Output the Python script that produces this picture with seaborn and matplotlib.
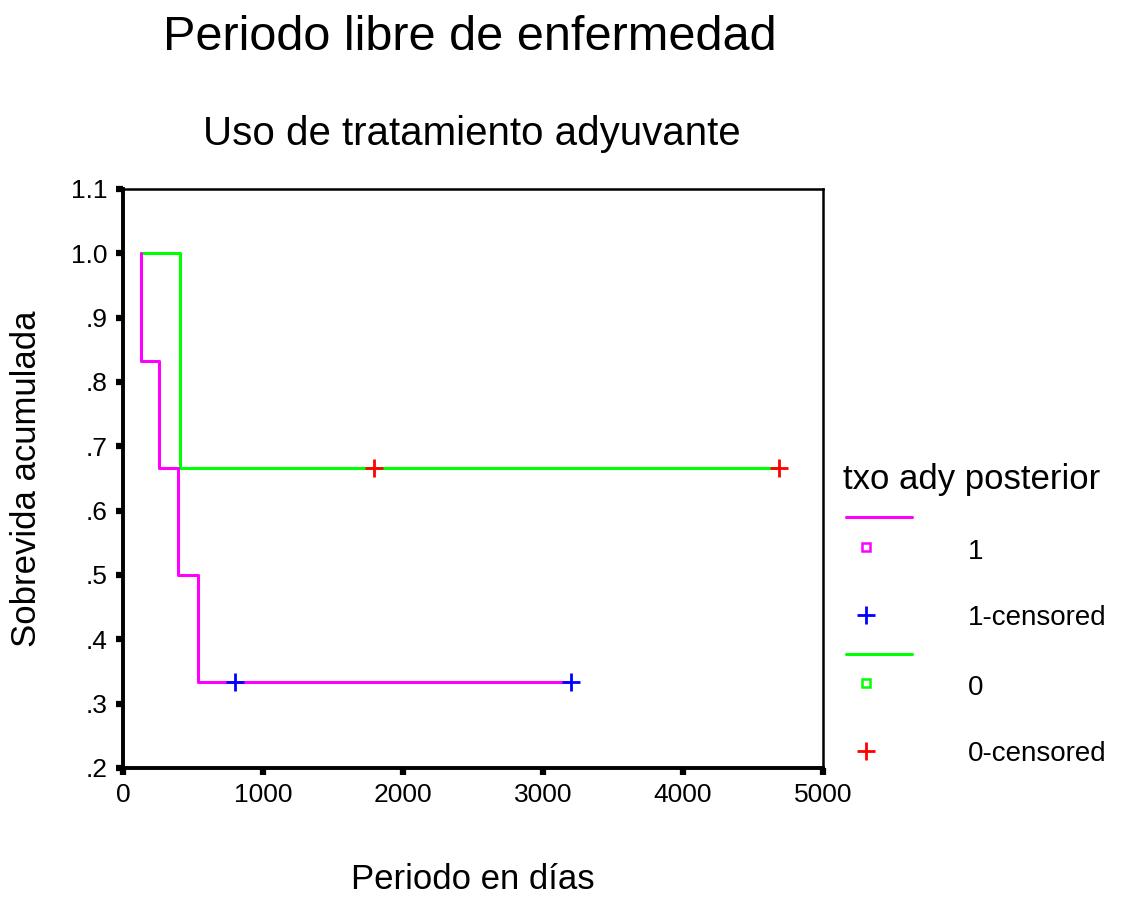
import matplotlib
matplotlib.use("Agg")
import matplotlib.pyplot as plt
import seaborn as sns
import pandas as pd
from matplotlib.lines import Line2D

# Kaplan-Meier step data
g1_time = [128, 128, 255, 393, 536, 3198]
g1_surv = [1.0, 0.8333, 0.6667, 0.5, 0.3333, 0.3333]
g1_cens_time = [800, 3198]
g1_cens_surv = [0.3333, 0.3333]

g0_time = [128, 407, 4686]
g0_surv = [1.0, 0.6667, 0.6667]
g0_cens_time = [1793, 4686]
g0_cens_surv = [0.6667, 0.6667]

x_ticks = [0, 1000, 2000, 3000, 4000, 5000]
y_ticks = [0.2, 0.3, 0.4, 0.5, 0.6, 0.7, 0.8, 0.9, 1.0, 1.1]
y_ticklabels = [".2", ".3", ".4", ".5", ".6", ".7", ".8", ".9", "1.0", "1.1"]

legend_title = "txo ady posterior"
legend_labels = ["1", "1-censored", "0", "0-censored"]

sns.set_style("white")
plt.rcParams['font.family'] = ['Liberation Sans', 'DejaVu Sans']
plt.rcParams['text.color'] = 'black'
plt.rcParams['axes.labelcolor'] = 'black'
plt.rcParams['xtick.color'] = 'black'
plt.rcParams['ytick.color'] = 'black'

fig = plt.figure(figsize=(11.21, 9.02), dpi=100)
ax = fig.add_axes([0.1097, 0.1486, 0.6244, 0.6419])

df1 = pd.DataFrame({"t": g1_time, "s": g1_surv})
df0 = pd.DataFrame({"t": g0_time, "s": g0_surv})
sns.lineplot(data=df0, x="t", y="s", estimator=None, sort=False, drawstyle="steps-post",
             color="#00FF00", lw=2.2, ax=ax)
sns.lineplot(data=df1, x="t", y="s", estimator=None, sort=False, drawstyle="steps-post",
             color="#FF00FF", lw=2.2, ax=ax)
ax.plot(g1_cens_time, g1_cens_surv, ls="none", marker="+", ms=13, mew=2, color="#0000FF")
ax.plot(g0_cens_time, g0_cens_surv, ls="none", marker="+", ms=13, mew=2, color="#FF0000")

ax.set_xlim(0, 5000)
ax.set_ylim(0.2, 1.1)
ax.set_xticks(x_ticks)
ax.set_xticklabels([str(v) for v in x_ticks], fontsize=19)
ax.set_yticks(y_ticks)
ax.set_yticklabels(y_ticklabels, fontsize=19)
ax.tick_params(direction="out", length=5, width=4.5, color="black", pad=6, left=True, bottom=True)
for side in ["left", "bottom"]:
    ax.spines[side].set_linewidth(2.8)
for side in ["top", "right"]:
    ax.spines[side].set_linewidth(1.8)
for sp in ax.spines.values():
    sp.set_color("black")
ax.set_xlabel("Periodo en días", fontsize=25, labelpad=40)
ax.set_ylabel("Sobrevida acumulada", fontsize=25, labelpad=20)

fig.text(0.419, 0.958, "Periodo libre de enfermedad", fontsize=35, ha="center", va="center", color="black")
fig.text(0.421, 0.851, "Uso de tratamiento adyuvante", fontsize=29, ha="center", va="center", color="black")

# manual legend
W, H = 1121, 902
def fx(px): return px / W
def fy(py): return 1 - py / H
fig.text(fx(843), fy(480), legend_title, fontsize=25, ha="left", va="center")
fig.add_artist(Line2D([fx(846), fx(912)], [fy(517), fy(517)], color="#FF00FF", lw=2.2))
fig.add_artist(Line2D([fx(866)], [fy(547)], marker="s", ms=6, mfc="none", mec="#FF00FF", mew=1.8, ls="none"))
fig.add_artist(Line2D([fx(866)], [fy(615)], marker="+", ms=13, mew=2, color="#0000FF", ls="none"))
fig.add_artist(Line2D([fx(846), fx(912)], [fy(654), fy(654)], color="#00FF00", lw=2.2))
fig.add_artist(Line2D([fx(866)], [fy(683)], marker="s", ms=6, mfc="none", mec="#00FF00", mew=1.8, ls="none"))
fig.add_artist(Line2D([fx(866)], [fy(751)], marker="+", ms=13, mew=2, color="#FF0000", ls="none"))
for lab, py in zip(legend_labels, [552, 618, 688, 754]):
    fig.text(fx(968), fy(py), lab, fontsize=20, ha="left", va="center")

fig.savefig("out.png", dpi=100)
